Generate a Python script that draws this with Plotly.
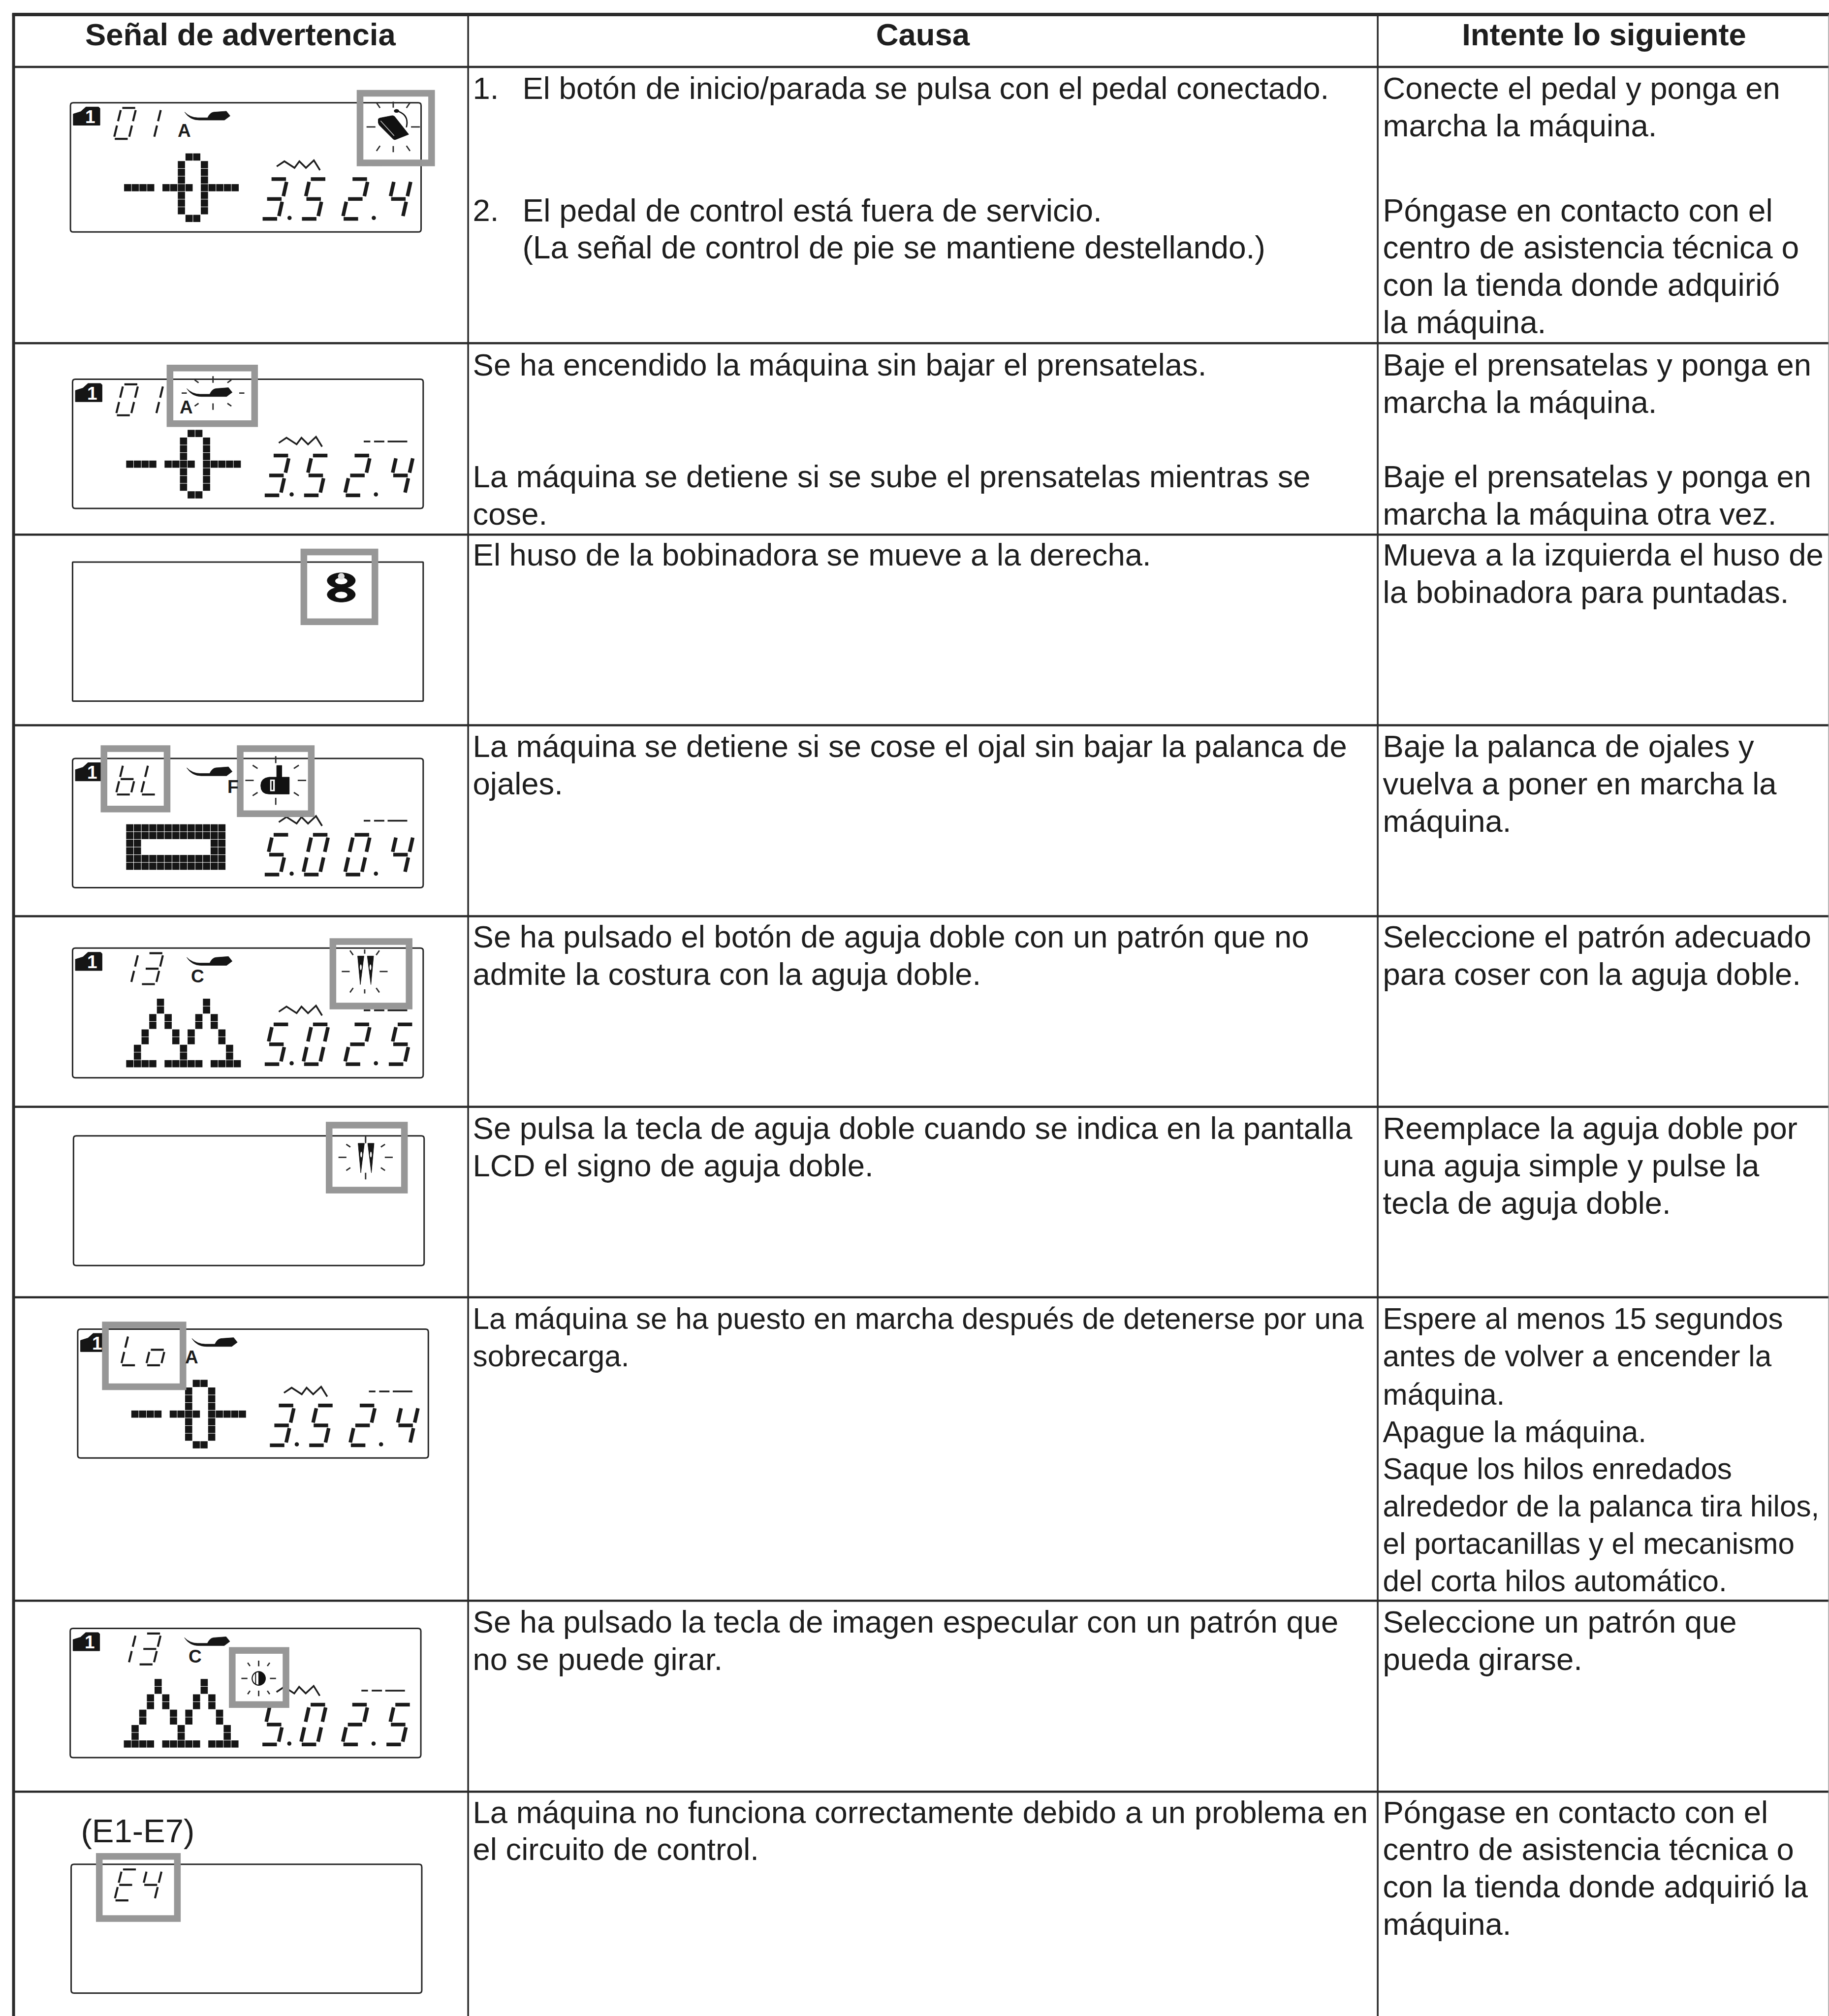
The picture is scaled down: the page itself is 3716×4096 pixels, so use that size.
import math
import plotly.graph_objects as go

# ---------- table content ----------
HEADERS = ["Señal de advertencia", "Causa", "Intente lo siguiente"]
NUMBERS = ["1.", "2."]
CAUSE_LINES = [
    "El botón de inicio/parada se pulsa con el pedal conectado.",
    "El pedal de control está fuera de servicio.",
    "(La señal de control de pie se mantiene destellando.)",
]
CAUSE_TEXT = [
    "Se ha encendido la máquina sin bajar el prensatelas.",
    "La máquina se detiene si se sube el prensatelas mientras se",
    "cose.",
    "El huso de la bobinadora se mueve a la derecha.",
    "La máquina se detiene si se cose el ojal sin bajar la palanca de",
    "ojales.",
    "Se ha pulsado el botón de aguja doble con un patrón que no",
    "admite la costura con la aguja doble.",
    "Se pulsa la tecla de aguja doble cuando se indica en la pantalla",
    "LCD el signo de aguja doble.",
    "La máquina se ha puesto en marcha después de detenerse por una",
    "sobrecarga.",
    "Se ha pulsado la tecla de imagen especular con un patrón que",
    "no se puede girar.",
    "La máquina no funciona correctamente debido a un problema en",
    "el circuito de control.",
]
ACTION_TEXT = [
    "Conecte el pedal y ponga en", "marcha la máquina.",
    "Póngase en contacto con el", "centro de asistencia técnica o",
    "con la tienda donde adquirió", "la máquina.",
    "Baje el prensatelas y ponga en", "marcha la máquina.",
    "Baje el prensatelas y ponga en", "marcha la máquina otra vez.",
    "Mueva a la izquierda el huso de", "la bobinadora para puntadas.",
    "Baje la palanca de ojales y", "vuelva a poner en marcha la", "máquina.",
    "Seleccione el patrón adecuado", "para coser con la aguja doble.",
    "Reemplace la aguja doble por", "una aguja simple y pulse la", "tecla de aguja doble.",
    "Espere al menos 15 segundos", "antes de volver a encender la", "máquina.",
    "Apague la máquina.", "Saque los hilos enredados",
    "alrededor de la palanca tira hilos,", "el portacanillas y el mecanismo",
    "del corta hilos automático.",
    "Seleccione un patrón que", "pueda girarse.",
    "Póngase en contacto con el", "centro de asistencia técnica o",
    "con la tienda donde adquirió la", "máquina.",
]

# ---------- layout (reference pixels; the axes scale them to the window) ----------
K = 2.7456
HEADER_X = [187 * K, 718 * K, 1248 * K]
HEADER_Y = 29.2 * K
TEXT_SHIFT = 2
NUMBER_Y = [69, 164]
CAUSE_LINES_Y = [69, 164, 193]
CAUSE_Y = [284, 371, 400, 432, 581, 610, 729, 758, 878, 907, 1026, 1055, 1262, 1291, 1410, 1439]
ACTION_Y = [69, 98, 164, 193, 222, 251, 284, 313, 371, 400, 432, 461, 581, 610, 639, 729, 758,
            878, 907, 936, 1026, 1055, 1085, 1114, 1143, 1172, 1201, 1230, 1262, 1291, 1410, 1439, 1468, 1497]
ROW_LINES = [143, 733, 1142, 1549, 1957, 2364, 2771, 3419, 3827]
COL_LINES = [29, 1000, 2943]
TOP_LINE = 33

INK = "#2b2b2b"
GRAY = "#979797"
FONT = "Liberation Sans"
FS = 63.4
FS_SMALL = 60.2
FS_LARGE = 64.2
CAUSE_LINES_FS = [FS, FS_LARGE, FS_LARGE]
CAUSE_FS = [FS_SMALL if i in (10, 11) else FS for i in range(len(CAUSE_TEXT))]
ACTION_FS = [FS_SMALL if 20 <= i <= 27 else FS_LARGE if 2 <= i <= 5 else FS for i in range(len(ACTION_TEXT))]

W, H = 3907, 4306
fig = go.Figure()
shapes = []
annos = []


def add_path(d, fill=None, line=INK, width=0, layer="above"):
    s = dict(type="path", path=d, xref="x", yref="y", layer=layer)
    s["fillcolor"] = fill if fill else "rgba(0,0,0,0)"
    s["line"] = dict(color=line, width=width)
    shapes.append(s)


def poly(pts, close=True):
    d = "M" + " L".join(f"{x:.1f},{y:.1f}" for x, y in pts)
    return d + (" Z" if close else "")


def ellipse(cx, cy, rx, ry, a0=0, a1=360):
    n = 40
    pts = [(cx + rx * math.cos(math.radians(a0 + (a1 - a0) * k / n)),
            cy + ry * math.sin(math.radians(a0 + (a1 - a0) * k / n))) for k in range(n + 1)]
    return poly(pts)


def letter(x, y, t, size=37, color="#1c1c1c"):
    annos.append(dict(x=x, y=y, text=f"<b>{t}</b>", showarrow=False, xanchor="center", yanchor="middle",
                      font=dict(family=FONT, size=size, color=color), xref="x", yref="y"))


# ---------- table lines ----------
for y in ROW_LINES:
    shapes.append(dict(type="line", x0=COL_LINES[0], x1=W, y0=y, y1=y, xref="x", yref="y",
                       line=dict(color=INK, width=4.5), layer="below"))
shapes.append(dict(type="line", x0=COL_LINES[0] - 3, x1=W, y0=TOP_LINE - 2, y1=TOP_LINE - 2, xref="x", yref="y",
                   line=dict(color=INK, width=7), layer="below"))
shapes.append(dict(type="line", x0=COL_LINES[0], x1=COL_LINES[0], y0=TOP_LINE - 4, y1=H, xref="x", yref="y",
                   line=dict(color=INK, width=6), layer="below"))
for x in COL_LINES[1:]:
    shapes.append(dict(type="line", x0=x, x1=x, y0=TOP_LINE - 2, y1=H, xref="x", yref="y",
                       line=dict(color=INK, width=3.5), layer="below"))
shapes.append(dict(type="line", x0=W - 1, x1=W - 1, y0=TOP_LINE - 2, y1=H, xref="x", yref="y",
                   line=dict(color="#9a9a9a", width=1.5), layer="below"))

# ---------- table text ----------
def text_trace(xs, ys, texts, position, bold=False, size=FS):
    fig.add_trace(go.Scatter(x=xs, y=ys, text=texts, mode="text", textposition=position, cliponaxis=False,
                             hoverinfo="skip", showlegend=False,
                             textfont=dict(family=FONT, size=size, color="#1e1e1e", weight=700 if bold else 400)))


text_trace(HEADER_X, [HEADER_Y] * 3, HEADERS, "middle center", bold=True, size=FS)
text_trace([1010] * 2, [(v + TEXT_SHIFT) * K for v in NUMBER_Y], NUMBERS, "middle right")
text_trace([1116] * 3, [(v + TEXT_SHIFT) * K for v in CAUSE_LINES_Y], CAUSE_LINES, "middle right", size=CAUSE_LINES_FS)
text_trace([1010] * len(CAUSE_TEXT), [(v + TEXT_SHIFT) * K for v in CAUSE_Y], CAUSE_TEXT, "middle right", size=CAUSE_FS)
text_trace([2954] * len(ACTION_TEXT), [(v + TEXT_SHIFT) * K for v in ACTION_Y], ACTION_TEXT, "middle right", size=ACTION_FS)
text_trace([173], [3917], ["(E1-E7)"], "middle right", size=67)

# ---------- LCD panels ----------
PANEL_W = 749
#          x0    y0
PANELS = [(150.5, 219.5), (155, 810), (155, 1200.5), (155, 1620), (155, 2025),
          (157, 2426), (166, 2839), (150, 3478), (152, 3982)]
PANEL_H = [276, 276, 297, 276, 277, 277, 275, 276, 275]
SMALL_DIGITS = ["01", "01", "", "bL", "13", "", "Lo", "13", "E4"]
SHOE_LETTER = ["A", "A", "", "F", "C", "", "A", "C", ""]
BIG_DIGITS = ["3.5 2.4", "3.5 2.4", "", "5.0 0.4", "5.0 2.5", "", "3.5 2.4", "5.0 2.5", ""]
PATTERN_OF = ["cross", "cross", "", "button", "peaks", "", "cross", "peaks", ""]
PATTERNS = {
    "cross": ["........XX.....", ".......X..X....", ".......X..X....", ".......X..X....",
              "XXXX.XXXX.XXXXX", ".......X..X....", ".......X..X....", ".......X..X....",
              "........XX....."],
    "peaks": ["....X.....X....", "....X.....X....", "...X.X...X.X...", "...X.X...X.X...",
              "..X...X.X...X..", "..X...X.X...X..", ".X.....X.....X.", ".X.....X.....X.",
              "XXXX.XXXXX.XXXX"],
    "button": ["XXXXXXXXXXXXX", "XXXXXXXXXXXXX", "XX.........XX", "XX.........XX",
               "XXXXXXXXXXXXX", "XXXXXXXXXXXXX"],
}
PATTERN_V = {"cross": 107.6, "peaks": 107.6, "button": 140}
CELL = 16.4
SEGMENTS = {"0": "abcdef", "1": "bc", "2": "abged", "3": "abgcd", "4": "fgbc", "5": "afgcd",
            "E": "afged", "b": "fgcde", "L": "fed", "o": "gcde"}


def seg_lines(ch, x, y, w, h, slant):
    """Line segments of one seven-segment glyph; x,y = left/top of the box without slant."""
    def p(a, b):  # a across 0..1, b down 0..1
        return (x + a * w + (1 - b) * slant, y + b * h)
    g = 0.07
    coords = {
        "a": (p(g, 0), p(1 - g, 0)), "g": (p(g, .5), p(1 - g, .5)), "d": (p(g, 1), p(1 - g, 1)),
        "f": (p(0, g), p(0, .5 - g)), "b": (p(1, g), p(1, .5 - g)),
        "e": (p(0, .5 + g), p(0, 1 - g)), "c": (p(1, .5 + g), p(1, 1 - g)),
    }
    return [coords[s] for s in SEGMENTS[ch]]


def big_display(u0, v0, txt):
    xs, ys, dx, dy = [], [], [], []
    for ch, u in zip(txt.replace(".", "").replace(" ", ""), [408, 492, 581, 673]):
        for a, b in seg_lines(ch, u0 + u, v0 + 163, 36, 85, 19):
            xs += [a[0], b[0], None]
            ys += [a[1], b[1], None]
    for u in (468, 648):
        dx.append(u0 + u)
        dy.append(v0 + 246)
    fig.add_trace(go.Scatter(x=xs, y=ys, mode="lines", line=dict(color="#1a1a1a", width=7.4), hoverinfo="skip",
                             showlegend=False))
    fig.add_trace(go.Scatter(x=dx, y=dy, mode="markers", marker=dict(color="#1a1a1a", size=8.5, symbol="circle"),
                             hoverinfo="skip", showlegend=False))


def pattern(u0, v0, name):
    xs, ys = [], []
    for r, row in enumerate(PATTERNS[name]):
        for c, cell in enumerate(row):
            if cell == "X":
                xs.append(u0 + 114 + CELL * (c + .5))
                ys.append(v0 + PATTERN_V[name] + CELL * (r + .5))
    fig.add_trace(go.Scatter(x=xs, y=ys, mode="markers", hoverinfo="skip", showlegend=False,
                             marker=dict(symbol="square", size=14.6, color="#161616", line=dict(width=0))))


def stitch_marks(u0, v0):
    zig = [(440.6, 136), (457, 125), (478.6, 139), (489, 125), (503, 139), (520, 123), (533, 144)]
    fig.add_trace(go.Scatter(x=[u0 + a for a, _ in zig], y=[v0 + b for _, b in zig], mode="lines",
                             line=dict(color="#1e1e1e", width=3.5), hoverinfo="skip", showlegend=False))
    xs, ys = [], []
    for a, b in [(622, 636), (644, 666), (673, 715)]:
        xs += [u0 + a, u0 + b, None]
        ys += [v0 + 133, v0 + 133, None]
    fig.add_trace(go.Scatter(x=xs, y=ys, mode="lines", line=dict(color="#1e1e1e", width=3.5), hoverinfo="skip",
                             showlegend=False))


def folder(u0, v0):
    pts = [(6, 24), (22, 19), (33, 9), (60, 9), (63, 12), (63, 48), (6, 48)]
    add_path(poly([(u0 + a, v0 + b) for a, b in pts]), fill="#151515", line="#151515", width=1)
    letter(u0 + 42, v0 + 30, "1", size=37, color="white")


def foot(u0, v0):
    add_path(f"M{u0+244},{v0+20} Q{u0+255},{v0+37} {u0+275},{v0+37} L{u0+329},{v0+37} L{u0+341},{v0+28} "
             f"L{u0+333},{v0+18} L{u0+306},{v0+20} Q{u0+298},{v0+21} {u0+293},{v0+32} L{u0+272},{v0+32} "
             f"Q{u0+256},{v0+32} {u0+244},{v0+20} Z", fill="#151515", line="#151515", width=0.8)


def small_digits(u0, v0, txt):
    boxes = [92.5, 146]
    d = []
    for ch, u in zip(txt, boxes):
        for a, b in seg_lines(ch, u0 + u, v0 + 11, 32, 66, 16):
            d.append(poly([a, b], close=False))
    add_path(" ".join(d), line="#1a1a1a", width=4.2)


def rays(cx, cy, h0, h1, v0, v1, dx, dy):
    d = [poly([(cx - h0, cy), (cx - h1, cy)], False), poly([(cx + h0, cy), (cx + h1, cy)], False),
         poly([(cx, cy - v0), (cx, cy - v1)], False), poly([(cx, cy + v0), (cx, cy + v1)], False)]
    for sx in (-1, 1):
        for sy in (-1, 1):
            d.append(poly([(cx + sx * dx * .88, cy + sy * dy * .88), (cx + sx * dx * 1.12, cy + sy * dy * 1.12)], False))
    add_path(" ".join(d), line="#2a2a2a", width=2.8)


def needles(cx, top, bot):
    for sx in (-1, 1):
        a, b = cx + sx * 3.6, cx + sx * 17
        add_path(poly([(a, top), (b, top), ((a + b) / 2 + sx, bot)]), fill="#151515", line="#151515", width=1)
        add_path(ellipse((a + b) / 2, top + 24, 1.9, 6), fill="white", line="white", width=0)


# boxes: outer rectangle in reference pixels
BOXES = [[(762, 192, 929, 355)], [(356, 779, 551, 912)], [(642, 1172, 808, 1335)],
         [(215, 1592, 364, 1735), (506, 1592, 672, 1745)], [(704, 2004, 881, 2156)],
         [(696, 2396, 871, 2549)], [(218, 2823, 398, 2969)], [(489, 3518, 618, 3648)],
         [(205, 3958, 386, 4105)]]
BOX_T = 14.2

for i, (u0, v0) in enumerate(PANELS):
    r = 6 if i != 2 else 1
    x1, y1 = u0 + PANEL_W, v0 + PANEL_H[i]
    add_path(f"M{u0+r},{v0} L{x1-r},{v0} Q{x1},{v0} {x1},{v0+r} L{x1},{y1-r} Q{x1},{y1} {x1-r},{y1} "
             f"L{u0+r},{y1} Q{u0},{y1} {u0},{y1-r} L{u0},{v0+r} Q{u0},{v0} {u0+r},{v0} Z",
             line="#262626", width=3, layer="below")
    if PATTERN_OF[i]:
        pattern(u0, v0, PATTERN_OF[i])
        big_display(u0, v0, BIG_DIGITS[i])
        stitch_marks(u0, v0)
    if SMALL_DIGITS[i] and i != 8:
        folder(u0, v0)
    for bx in BOXES[i]:
        t = BOX_T / 2
        shapes.append(dict(type="rect", x0=bx[0] + t, y0=bx[1] + t, x1=bx[2] - t, y1=bx[3] - t, xref="x", yref="y",
                           layer="above", line=dict(color=GRAY, width=BOX_T * .951)))
    if SMALL_DIGITS[i]:
        small_digits(u0, v0, SMALL_DIGITS[i])
    if SHOE_LETTER[i]:
        foot(u0, v0)
        cx = {"A": 243, "F": 343, "C": 267}[SHOE_LETTER[i]]
        letter(u0 + cx, v0 + 60, SHOE_LETTER[i])

# flashing icons
# pedal
add_path("M808,255 Q808,253 812,252 L838,247 Q841,247 843,249 L873,287 L845,298 Q842,299 840,297 L810,267 Q807,263 808,255 Z",
         fill="#111", line="#111", width=1)
add_path("M813,258 L842,290", line="#bdbdbd", width=1.6)
add_path("M848,237 Q875,245 868,272", line="#111", width=2.6)
add_path(ellipse(847, 237, 5.5, 3.8), fill="#111", line="#111", width=0)
rays(840, 271, 38, 57, 41, 54, 32, 46)
# presser foot
rays(455, 839.5, 56, 67, 22, 36, 35, 25)
# bobbin winder spool
add_path(ellipse(729, 1240, 30, 16.5), fill="#111", line="#111", width=1)
add_path(ellipse(729, 1270, 30, 16), fill="#111", line="#111", width=1)
add_path(poly([(716, 1250), (742, 1250), (742, 1262), (716, 1262)]), fill="#111", line="#111", width=0)
add_path(ellipse(729, 1241, 13, 7), fill="white", line="white", width=0)
add_path(ellipse(729, 1271, 13, 7), fill="white", line="white", width=0)
add_path(ellipse(729, 1231, 7, 7), fill="#dddddd", line="#dddddd", width=0)
# buttonhole lever
add_path("M618,1660 L602,1660 L602,1635 L591,1635 L591,1660 L575,1660 Q557,1662 557,1678 Q557,1696 575,1696 L618,1696 Z",
         fill="#111", line="#111", width=1)
add_path(poly([(577, 1665), (587, 1665), (587, 1690), (577, 1690)]), fill="white", line="white", width=0)
add_path(poly([(580, 1668), (583.5, 1668), (583.5, 1687), (580, 1687)]), fill="#111", line="#111", width=0)
rays(589, 1667, 47, 65, 37, 52, 44, 29)
# twin needles
needles(781, 2042, 2103)
rays(779, 2075, 32, 49, 38, 47, 28, 40)
needles(782, 2442, 2505)
add_path("M781,2429 L781,2442", line="#2a2a2a", width=2.6)
rays(781, 2472, 41, 58, 33, 47, 37, 25)
# mirror key
add_path(ellipse(552.6, 3585, 14, 14.4), fill="white", line="#111", width=2.2)
add_path(ellipse(552.6, 3585, 14, 14.4, -90, 90), fill="#111", line="#111", width=1)
add_path("M546,3572 L546,3598", line="#111", width=2)
rays(552.6, 3585, 24, 37, 26, 38, 21, 30)

fig.update_layout(
    width=3716, height=4096, margin=dict(l=0, r=0, t=0, b=0), paper_bgcolor="white", plot_bgcolor="white",
    showlegend=False, shapes=shapes, annotations=annos,
    xaxis=dict(range=[0, W], visible=False, fixedrange=True),
    yaxis=dict(range=[H, 0], visible=False, fixedrange=True),
)
fig.write_html("out.html", config=dict(displayModeBar=False),
               post_script="document.body.style.margin='0';document.body.style.overflow='hidden';")
